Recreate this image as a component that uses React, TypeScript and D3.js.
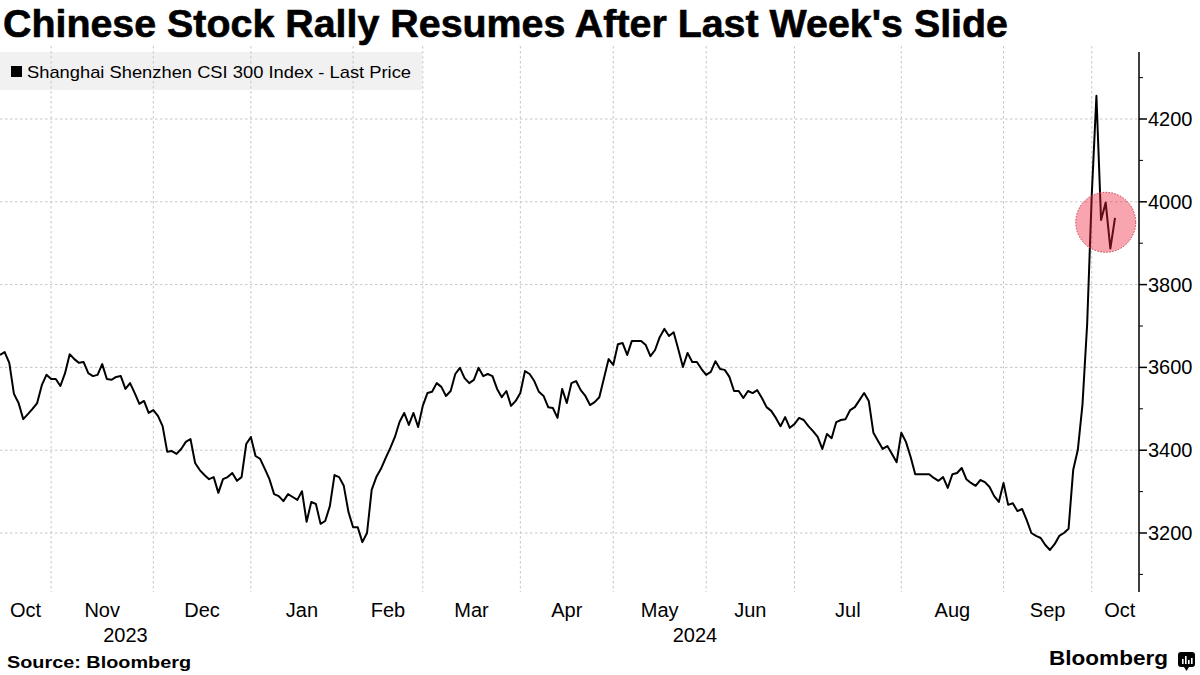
import React from "react";
import * as d3 from "d3";

// CSI 300 daily closes, 16 Oct 2023 .. 14 Oct 2024 (trading days)
const closes: number[] = [
  // Oct 2023
  3630, 3637, 3611, 3536, 3514, 3475, 3487, 3500, 3514, 3557, 3582, 3572,
  // Nov
  3572, 3555, 3586, 3632, 3620, 3611, 3613, 3586, 3579, 3582, 3608, 3572, 3570, 3577, 3579, 3548, 3562, 3538, 3512, 3519, 3490, 3497,
  // Dec
  3483, 3458, 3396, 3398, 3391, 3403, 3420, 3427, 3369, 3352, 3340, 3330, 3335, 3297, 3330, 3335, 3345, 3326, 3335, 3415, 3432,
  // Jan 2024
  3386, 3379, 3355, 3330, 3294, 3289, 3277, 3294, 3287, 3280, 3301, 3227, 3275, 3270, 3222, 3229, 3265, 3340, 3335, 3314, 3251, 3214,
  // Feb
  3214, 3178, 3200, 3304, 3335, 3355, 3381, 3405, 3432, 3468, 3490, 3461, 3490, 3456, 3507,
  // Mar
  3538, 3541, 3562, 3553, 3531, 3543, 3584, 3599, 3574, 3562, 3570, 3599, 3579, 3584, 3579, 3548, 3528, 3543, 3507, 3519, 3538,
  // Apr
  3591, 3584, 3567, 3541, 3531, 3504, 3502, 3478, 3548, 3514, 3562, 3567, 3545, 3531, 3509, 3516, 3528, 3574, 3620, 3606,
  // May
  3656, 3659, 3630, 3664, 3664, 3664, 3654, 3627, 3642, 3673, 3693, 3676, 3685, 3644, 3601, 3635, 3613, 3613, 3596, 3582,
  // Jun
  3589, 3615, 3596, 3594, 3577, 3543, 3543, 3526, 3543, 3538, 3545, 3526, 3504, 3495, 3478, 3458, 3480, 3454, 3463,
  // Jul
  3478, 3473, 3458, 3446, 3432, 3403, 3439, 3429, 3468, 3473, 3475, 3497, 3504, 3521, 3538, 3519, 3442, 3422, 3403, 3410, 3391, 3371, 3442,
  // Aug
  3420, 3384, 3342, 3342, 3342, 3342, 3333, 3326, 3335, 3309, 3342, 3345, 3357, 3330, 3321, 3314, 3328, 3323, 3311, 3289, 3275, 3321,
  // Sep
  3268, 3272, 3253, 3258, 3231, 3200, 3193, 3188, 3171, 3159, 3173, 3193, 3200, 3210, 3352, 3401, 3510, 3703, 4017,
  // Oct 2024
  4256, 3956, 3998, 3887, 3961,
];

// index of the last trading day of each month (gridline positions)
const monthEndIdx: number[] = [11, 33, 54, 76, 91, 112, 132, 152, 171, 194, 216, 235];
const monthLabels: string[] = ["Oct", "Nov", "Dec", "Jan", "Feb", "Mar", "Apr", "May", "Jun", "Jul", "Aug", "Sep", "Oct"];
const yearLabels: string[] = ["2023", "2024"];
const yMajorTicks: number[] = [3200, 3400, 3600, 3800, 4000, 4200];
const yMinorTicks: number[] = [3100, 3300, 3500, 3700, 3900, 4100, 4300];
const highlightIdx: number[] = [236, 237, 238, 239, 240];

const W = 1200;
const H = 675;
const FONT = "'Liberation Sans', Arial, Helvetica, sans-serif";

export default function App() {
  const axisX = 1139;
  const plotTop = 52;
  const plotBottom = 592;

  const x = d3.scaleLinear().domain([0, closes.length - 1]).range([0, 1115]);
  const y = d3.scaleLinear().domain([3200, 4200]).range([533, 119]);

  const line = d3
    .line<number>()
    .x((_, i) => x(i))
    .y((d) => y(d));

  const bounds = [0, ...monthEndIdx.map((i) => x(i)), axisX + 9];
  const monthCenters = monthLabels.map((_, i) => (bounds[i] + bounds[i + 1]) / 2);
  const yearBounds = [0, x(monthEndIdx[2]), axisX];
  const yearCenters = yearLabels.map((_, i) => (yearBounds[i] + yearBounds[i + 1]) / 2);

  const hiCx = x(d3.mean(highlightIdx) as number);
  const hiCy = y(d3.mean(highlightIdx.slice(1), (i) => closes[i]) as number);

  const gridColor = "#c6c6c6";

  return (
    <svg
      width={W}
      height={H}
      viewBox={`0 0 ${W} ${H}`}
      style={{ position: "absolute", left: 0, top: 0, background: "#fff", display: "block" }}
      fontFamily={FONT}
    >
      <rect x={0} y={0} width={W} height={H} fill="#fff" />

      {/* title */}
      <text x={3} y={37} fontSize={38} fontWeight={700} fill="#000" stroke="#000" strokeWidth={0.6} textLength={1005} lengthAdjust="spacingAndGlyphs">
        Chinese Stock Rally Resumes After Last Week's Slide
      </text>

      {/* legend box */}
      <rect x={0} y={52} width={422} height={38} fill="#f1f1f1" />

      {/* horizontal gridlines */}
      {yMajorTicks.map((t) => (
        <line key={"h" + t} x1={0} x2={axisX} y1={y(t)} y2={y(t)} stroke={gridColor} strokeWidth={1} strokeDasharray="2.5 2.5" />
      ))}
      {/* vertical gridlines */}
      {monthEndIdx.map((i) => (
        <line key={"v" + i} x1={x(i)} x2={x(i)} y1={46} y2={plotBottom} stroke={gridColor} strokeWidth={1} strokeDasharray="2.5 2.5" />
      ))}

      {/* legend content */}
      <rect x={11} y={66} width={11} height={11} fill="#000" />
      <text x={27} y={78} fontSize={17} fill="#000" textLength={384} lengthAdjust="spacingAndGlyphs">
        Shanghai Shenzhen CSI 300 Index - Last Price
      </text>

      {/* series line */}
      <path d={line(closes) || ""} fill="none" stroke="#000" strokeWidth={2} strokeLinejoin="round" />

      {/* highlight circle */}
      <circle
        cx={hiCx}
        cy={hiCy}
        r={30}
        fill="rgb(240,30,55)"
        fillOpacity={0.4}
        stroke="#c23a52"
        strokeWidth={1}
        strokeDasharray="1.5 1.5"
      />

      {/* right axis */}
      <line x1={axisX} x2={axisX} y1={plotTop} y2={plotBottom} stroke="#000" strokeWidth={1.5} />
      {yMajorTicks.map((t) => (
        <g key={"t" + t}>
          <line x1={axisX} x2={axisX + 8} y1={y(t)} y2={y(t)} stroke="#000" strokeWidth={1.5} />
          <text x={axisX + 9} y={y(t) + 7} fontSize={20} fill="#000">
            {t}
          </text>
        </g>
      ))}
      {yMinorTicks.map((t) => (
        <line key={"m" + t} x1={axisX} x2={axisX + 4} y1={y(t)} y2={y(t)} stroke="#000" strokeWidth={1} />
      ))}

      {/* x labels */}
      {monthLabels.map((m, i) => (
        <text key={"ml" + i} x={monthCenters[i]} y={617} fontSize={20} textAnchor="middle" fill="#000">
          {m}
        </text>
      ))}
      {yearLabels.map((yl, i) => (
        <text key={"yl" + i} x={yearCenters[i]} y={642} fontSize={20} textAnchor="middle" fill="#000">
          {yl}
        </text>
      ))}

      {/* footer */}
      <text x={7} y={668} fontSize={17} fontWeight={700} fill="#000" textLength={184} lengthAdjust="spacingAndGlyphs">
        Source: Bloomberg
      </text>
      <text x={1049} y={665} fontSize={21} fontWeight={700} fill="#000" textLength={119} lengthAdjust="spacingAndGlyphs">
        Bloomberg
      </text>
      <g>
        <rect x={1178} y={652} width={17} height={15} rx={3} fill="#000" />
        <path d="M1184 667 L1186.5 671 L1189 667 Z" fill="#000" />
        <rect x={1182} y={659} width={1.6} height={5} fill="#fff" />
        <rect x={1185} y={656} width={1.6} height={8} fill="#fff" />
        <rect x={1188} y={660} width={1.6} height={4} fill="#fff" />
        <rect x={1191} y={658} width={1.6} height={6} fill="#fff" />
      </g>
    </svg>
  );
}
